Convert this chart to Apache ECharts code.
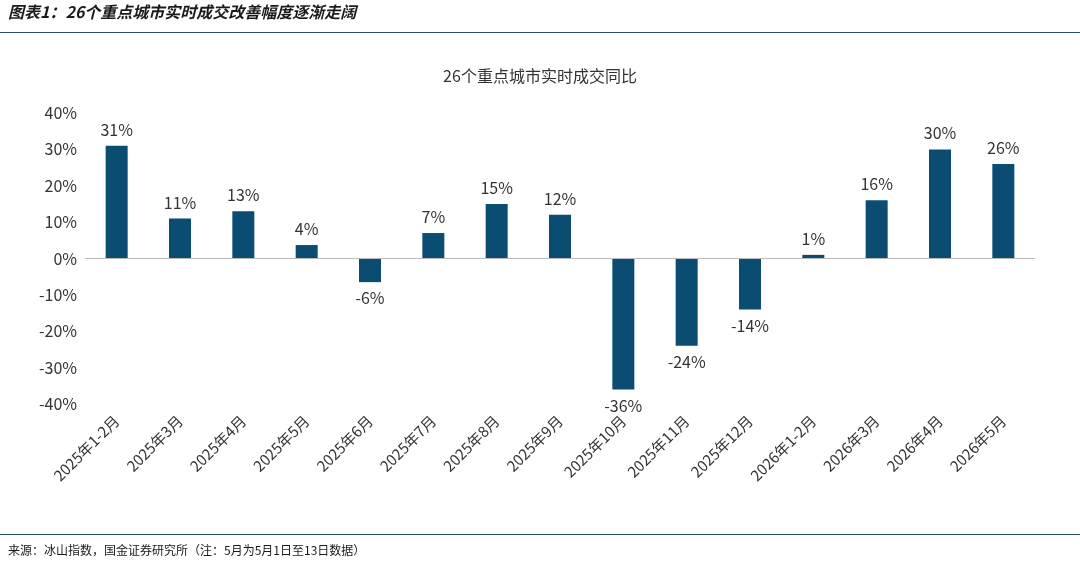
<!DOCTYPE html>
<html><head><meta charset="utf-8">
<script src="https://cdn.jsdelivr.net/npm/echarts@6/dist/echarts.min.js"></script>
<style>body{margin:0;background:#fff}#c{width:1080px;height:567px}</style>
</head><body><div id="c"></div>
<script>
const categories=['2025年1-2月','2025年3月','2025年4月','2025年5月','2025年6月','2025年7月','2025年8月','2025年9月','2025年10月','2025年11月','2025年12月','2026年1-2月','2026年3月','2026年4月','2026年5月'];
const values=[31,11,13,3.7,-6.5,7,15,12,-36,-24,-14,1,16,30,26];
const font='"Noto Sans CJK SC", sans-serif';
const chart=echarts.init(document.getElementById('c'));
chart.setOption({
  animation:false,
  graphic:[
    {type:'text',left:8,top:4,style:{text:'图表1：26个重点城市实时成交改善幅度逐渐走阔',font:'italic bold 16px '+font,fill:'#1a1a1a'}},
    {type:'rect',shape:{x:0,y:32,width:1080,height:1},style:{fill:'#2b4e6e'}},
    {type:'rect',shape:{x:0,y:534,width:1080,height:1},style:{fill:'#2b4e6e'}},
    {type:'text',left:8,top:544,style:{text:'来源：冰山指数，国金证券研究所（注：5月为5月1日至13日数据）',font:'12px '+font,fill:'#1a1a1a'}}
  ],
  title:{text:'26个重点城市实时成交同比',left:'center',top:63,textStyle:{fontFamily:font,fontSize:16,fontWeight:'normal',color:'#333'}},
  grid:{left:85,right:45,top:113,bottom:163,outerBoundsMode:'none',containLabel:false},
  xAxis:{type:'category',data:categories,axisLine:{show:false,onZero:false},axisTick:{show:false},
    axisLabel:{rotate:45,fontFamily:font,fontSize:15,color:'#333',interval:0,margin:14}},
  yAxis:{type:'value',min:-40,max:40,interval:10,splitLine:{show:false},axisLine:{show:false},axisTick:{show:false},
    axisLabel:{formatter:v=>v+'%',fontFamily:font,fontSize:16,color:'#333'}},
  series:[{type:'bar',barWidth:22,itemStyle:{color:'#0b4d72'},
    data:values.map(v=>({value:v,label:{position:v>=0?'top':'bottom'}})),
    label:{show:true,distance:8,formatter:p=>Math.round(p.value)+'%',fontFamily:font,fontSize:16,color:'#333'},
    markLine:{silent:true,symbol:'none',label:{show:false},lineStyle:{color:'#bbb',type:'solid',width:1},data:[{yAxis:0}]}}]
});
</script></body></html>
